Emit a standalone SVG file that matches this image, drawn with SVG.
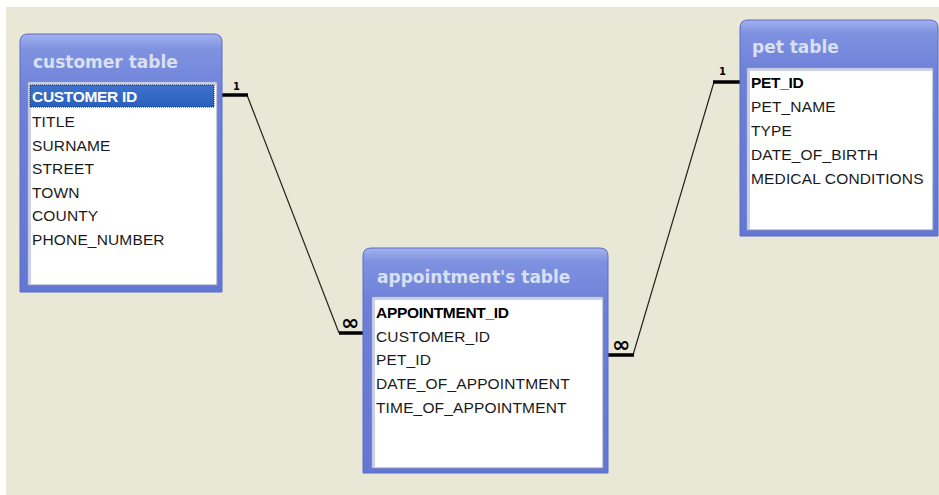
<svg xmlns="http://www.w3.org/2000/svg" width="939" height="495" viewBox="0 0 939 495">
  <defs>
    <linearGradient id="frameGrad" x1="0" y1="0" x2="0" y2="1">
      <stop offset="0" stop-color="#a3b1ee"/>
      <stop offset="0.06" stop-color="#7f92e0"/>
      <stop offset="0.25" stop-color="#6c80d9"/>
      <stop offset="1" stop-color="#6276d3"/>
    </linearGradient>
    <linearGradient id="selGrad" x1="0" y1="0" x2="0" y2="1">
      <stop offset="0" stop-color="#3d72cc"/>
      <stop offset="1" stop-color="#2a5fbd"/>
    </linearGradient>
    <style>
      .frame { fill: url(#frameGrad); stroke: #5a6cc8; stroke-width: 1; }
      .list { fill: #ffffff; stroke: #8a93b8; stroke-width: 1; }
      .inset { fill: none; stroke: #c9d0ee; stroke-width: 2; }
      .title { font-family: "DejaVu Sans", "Liberation Sans", sans-serif; font-weight: bold; font-size: 17px; fill: #d9e0f4; }
      .field { font-family: "Liberation Sans", "DejaVu Sans", sans-serif; font-size: 15.5px; letter-spacing: 0.15px; fill: #1a1a1a; }
      .key { font-weight: bold; letter-spacing: -0.3px; fill: #000000; }
      .sel { fill: url(#selGrad); stroke: #1c2a55; stroke-width: 1; stroke-dasharray: 1 1; }
      .seltext { font-family: "Liberation Sans", "DejaVu Sans", sans-serif; font-size: 15.5px; font-weight: bold; letter-spacing: -0.3px; fill: #ffffff; }
      .link { fill: none; stroke: #222222; stroke-width: 1.2; }
      .stub { fill: none; stroke: #000000; stroke-width: 3.5; }
      .card { font-family: "DejaVu Sans", "Liberation Sans", sans-serif; font-weight: bold; font-size: 10px; fill: #000000; }
      .many { font-family: "DejaVu Sans", "Liberation Sans", sans-serif; font-weight: bold; font-size: 22px; fill: #000000; }
    </style>
  </defs>

  <!-- canvas -->
  <rect x="0" y="0" width="939" height="495" fill="#ffffff"/>
  <rect x="6" y="7" width="933" height="488" fill="#e9e7d5"/>

  <!-- relationships -->
  <g id="connectors">
    <path class="link" d="M247 95 L339 333"/>
    <path class="stub" d="M222 95 H248"/>
    <path class="stub" d="M339 333 H363"/>
    <text class="card" x="233" y="90">1</text>
    <text class="many" x="341" y="330">∞</text>

    <path class="link" d="M633 355 L714 82"/>
    <path class="stub" d="M608 355 H634"/>
    <path class="stub" d="M713 82 H740"/>
    <text class="card" x="719" y="75">1</text>
    <text class="many" x="612" y="352">∞</text>
  </g>

  <!-- customer table -->
  <g id="customer-table">
    <path class="frame" d="M20 292 V42 Q20 34 28 34 H214 Q222 34 222 42 V292 Z"/>
    <rect class="list" x="28" y="82" width="189" height="203"/>
    <path class="inset" d="M30 284 V84 H216"/>
    <text class="title" x="33" y="68">customer table</text>
    <rect class="sel" x="30" y="85" width="184" height="22"/>
    <text class="seltext" x="32" y="102">CUSTOMER ID</text>
    <text class="field" x="32" y="127">TITLE</text>
    <text class="field" x="32" y="151">SURNAME</text>
    <text class="field" x="32" y="174">STREET</text>
    <text class="field" x="32" y="198">TOWN</text>
    <text class="field" x="32" y="221">COUNTY</text>
    <text class="field" x="32" y="245">PHONE_NUMBER</text>
  </g>

  <!-- appointment table -->
  <g id="appointment-table">
    <path class="frame" d="M363 473 V256 Q363 248 371 248 H600 Q608 248 608 256 V473 Z"/>
    <rect class="list" x="372" y="297" width="231" height="171"/>
    <path class="inset" d="M374 467 V299 H602"/>
    <text class="title" x="377" y="283">appointment's table</text>
    <text class="field key" x="376" y="318">APPOINTMENT_ID</text>
    <text class="field" x="376" y="342">CUSTOMER_ID</text>
    <text class="field" x="376" y="365">PET_ID</text>
    <text class="field" x="376" y="389">DATE_OF_APPOINTMENT</text>
    <text class="field" x="376" y="413">TIME_OF_APPOINTMENT</text>
  </g>

  <!-- pet table -->
  <g id="pet-table">
    <path class="frame" d="M740 236 V28 Q740 20 748 20 H930 Q938 20 938 28 V236 Z"/>
    <rect class="list" x="747" y="68" width="186" height="162"/>
    <path class="inset" d="M749 229 V70 H932"/>
    <text class="title" x="752" y="53">pet table</text>
    <text class="field key" x="751" y="88">PET_ID</text>
    <text class="field" x="751" y="112">PET_NAME</text>
    <text class="field" x="751" y="136">TYPE</text>
    <text class="field" x="751" y="160">DATE_OF_BIRTH</text>
    <text class="field" x="751" y="184">MEDICAL CONDITIONS</text>
  </g>
</svg>
